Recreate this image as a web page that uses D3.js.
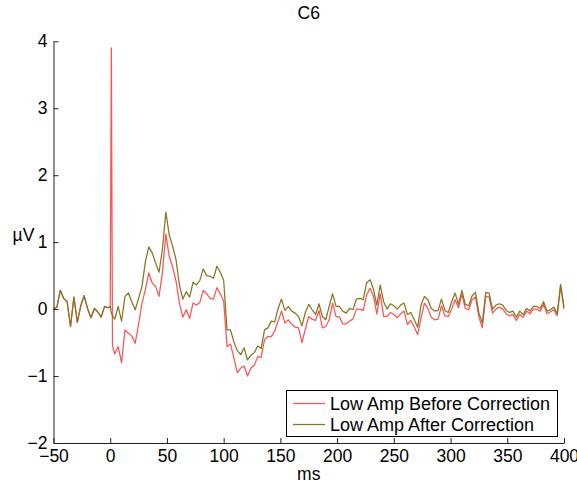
<!DOCTYPE html>
<html>
<head>
<meta charset="utf-8">
<script src="https://cdn.jsdelivr.net/npm/d3@7"></script>
<style>
  html, body { margin: 0; padding: 0; background: #fff; }
  svg { display: block; font-family: "Liberation Sans", Arial, sans-serif; }
</style>
</head>
<body>
<svg id="chart" width="577" height="482"></svg>
<script>
const chartTitle = "C6";
const xLabel = "ms";
const yLabel = "\u00B5V";
const seriesNames = ["Low Amp Before Correction", "Low Amp After Correction"];
const seriesColors = ["#ff5252", "#877524"];
const xTicks = [-50, 0, 50, 100, 150, 200, 250, 300, 350, 400];
const yTicks = [-2, -1, 0, 1, 2, 3, 4];

const timesMs = [
  -50,-47,-44,-41,-38,-35,-32,-29,-26,-23,-20,-17,-14,-11,-8,-5,-2,
  0,1,2,
  4,7,10,13,16,19,22,25,28,31,34,37,40,
  43,46,49,52,55,58,61,64,67,70,73,76,79,82,85,88,91,94,97,100,
  103,106,109,112,115,118,121,124,127,
  130,133,136,139,142,145,148,151,154,157,160,163,166,169,172,175,178,181,184,187,190,193,196,199,202,205,208,211,214,
  217,220,223,226,229,232,235,238,241,244,247,250,253,256,259,262,265,268,271,274,277,280,283,286,289,292,295,298,301,304,
  307,310,313,316,319,322,325,328,331,334,337,340,343,346,349,352,355,358,361,364,367,370,373,376,379,382,385,388,391,394,397,400
];

const beforeValues = [
  0.0,0.03,0.28,0.16,0.11,-0.26,0.18,-0.2,0.05,0.2,0.01,-0.13,0.01,-0.04,-0.12,0.04,0.02,
  0.04,3.9,-0.55,
  -0.67,-0.56,-0.80,-0.31,-0.36,-0.40,-0.51,-0.23,0.09,0.29,0.54,0.39,0.34,
  0.19,0.54,1.12,0.79,0.63,0.42,0.09,-0.12,-0.01,-0.14,0.09,0.06,0.10,0.28,0.23,0.16,0.15,0.32,0.23,0.12,
  -0.56,-0.52,-0.73,-0.95,-0.88,-0.85,-1.0,-0.88,-0.84,
  -0.71,-0.72,-0.46,-0.41,-0.41,-0.33,-0.18,-0.03,-0.21,-0.16,-0.23,-0.27,-0.28,-0.5,-0.3,-0.11,-0.15,-0.17,-0.02,-0.28,-0.26,-0.16,0.09,-0.11,-0.12,-0.22,-0.22,-0.18,-0.15,
  0.0,0.0,-0.02,0.21,0.31,0.2,-0.07,0.23,-0.11,-0.11,-0.05,-0.08,-0.13,-0.07,-0.03,-0.23,-0.17,-0.27,-0.38,-0.13,0.09,0.01,-0.12,-0.16,-0.15,0.05,-0.10,-0.11,0.0,0.14,
  0.02,0.22,0.01,-0.01,0.14,0.18,-0.12,-0.28,0.19,0.18,-0.06,0.0,0.03,0.0,-0.07,-0.1,-0.08,-0.17,-0.08,-0.12,-0.03,-0.07,0.0,0.0,-0.03,0.07,-0.07,-0.04,-0.01,-0.1,0.34,0.0
];

const afterValues = [
  0.0,0.03,0.28,0.16,0.11,-0.26,0.18,-0.2,0.05,0.2,0.01,-0.13,0.01,-0.04,-0.12,0.04,0.02,
  0.04,-0.06,-0.1,
  -0.15,0.04,-0.18,0.19,0.24,0.11,-0.01,0.16,0.34,0.71,0.93,0.84,0.69,
  0.55,0.89,1.45,1.11,0.94,0.74,0.36,0.15,0.26,0.18,0.40,0.36,0.43,0.6,0.50,0.49,0.46,0.64,0.55,0.43,
  -0.31,-0.31,-0.49,-0.62,-0.68,-0.58,-0.76,-0.69,-0.65,
  -0.55,-0.59,-0.31,-0.28,-0.18,-0.19,0.01,0.15,-0.02,0.04,-0.03,-0.06,-0.11,-0.25,-0.05,0.07,-0.01,-0.08,0.08,-0.11,-0.16,0.04,0.23,0.04,0.04,-0.03,-0.06,0.01,-0.01,
  0.15,0.16,0.14,0.39,0.44,0.3,0.06,0.36,0.11,0.0,0.08,0.05,0.0,0.06,0.09,-0.08,-0.05,-0.16,-0.27,0.06,0.19,0.14,0.01,-0.03,-0.02,0.15,-0.02,-0.05,0.11,0.24,
  0.07,0.28,0.07,0.05,0.2,0.25,-0.06,-0.21,0.25,0.24,0.0,0.06,0.08,0.06,-0.02,-0.05,-0.03,-0.12,-0.03,-0.08,0.01,-0.03,0.04,0.04,0.01,0.11,-0.03,-0.01,0.03,-0.07,0.37,0.03
];

(function () {
const svg = d3.select("#chart");
const padL = 53.5, padR = 564, padT = 41.3, padB = 443;
const FS = 17.5;

const x = d3.scaleLinear().domain([-50, 400]).range([padL, padR]);
const y = d3.scaleLinear().domain([-2, 4]).range([padB, padT]);

const fmt = d => (d < 0 ? "\u2212" + Math.abs(d) : String(d));

// lines (drawn first, axes on top)
const series = [beforeValues, afterValues];
const line = d3.line().x((d, i) => x(timesMs[i])).y(d => y(d));
series.forEach((vals, k) => {
  svg.append("path").datum(vals)
    .attr("fill", "none")
    .attr("stroke", seriesColors[k])
    .attr("stroke-width", 1.25)
    .attr("stroke-linejoin", "round")
    .attr("d", line);
});

// x axis (ticks inward)
const gx = svg.append("g").attr("transform", `translate(0,${padB})`)
  .call(d3.axisBottom(x).tickValues(xTicks).tickSizeInner(-5).tickSizeOuter(0).tickPadding(7).tickFormat(fmt));
gx.select(".domain").attr("stroke", "#222");
gx.selectAll(".tick line").attr("stroke", "#222");
gx.selectAll(".tick text").attr("font-size", FS).attr("fill", "#000")
  .attr("font-family", "Liberation Sans, Arial, sans-serif");

// y axis (ticks inward)
const gy = svg.append("g").attr("transform", `translate(${padL},0)`)
  .call(d3.axisLeft(y).tickValues(yTicks).tickSizeInner(-5).tickSizeOuter(0).tickPadding(6).tickFormat(fmt));
gy.select(".domain").attr("stroke", "#222");
gy.selectAll(".tick line").attr("stroke", "#222");
gy.selectAll(".tick text").attr("font-size", FS).attr("fill", "#000")
  .attr("font-family", "Liberation Sans, Arial, sans-serif");

// title and labels
svg.append("text").attr("x", (padL + padR) / 2).attr("y", 19).attr("text-anchor", "middle")
  .attr("font-size", FS).text(chartTitle);
svg.append("text").attr("x", (padL + padR) / 2).attr("y", 480).attr("text-anchor", "middle")
  .attr("font-size", FS).text(xLabel);
svg.append("text").attr("x", 23.5).attr("y", 241).attr("text-anchor", "middle")
  .attr("font-size", FS).text(yLabel);

// legend
const lg = svg.append("g");
lg.append("rect").attr("x", 286.5).attr("y", 390.5).attr("width", 271).attr("height", 46)
  .attr("fill", "#fff").attr("stroke", "#000").attr("stroke-width", 1);
seriesNames.forEach((name, k) => {
  const yy = 403.5 + k * 21;
  lg.append("line").attr("x1", 293).attr("x2", 325).attr("y1", yy).attr("y2", yy)
    .attr("stroke", seriesColors[k]).attr("stroke-width", 1.25);
  lg.append("text").attr("x", 330).attr("y", yy + 6).attr("font-size", FS + 0.5).text(name);
});
})();
</script>
</body>
</html>
